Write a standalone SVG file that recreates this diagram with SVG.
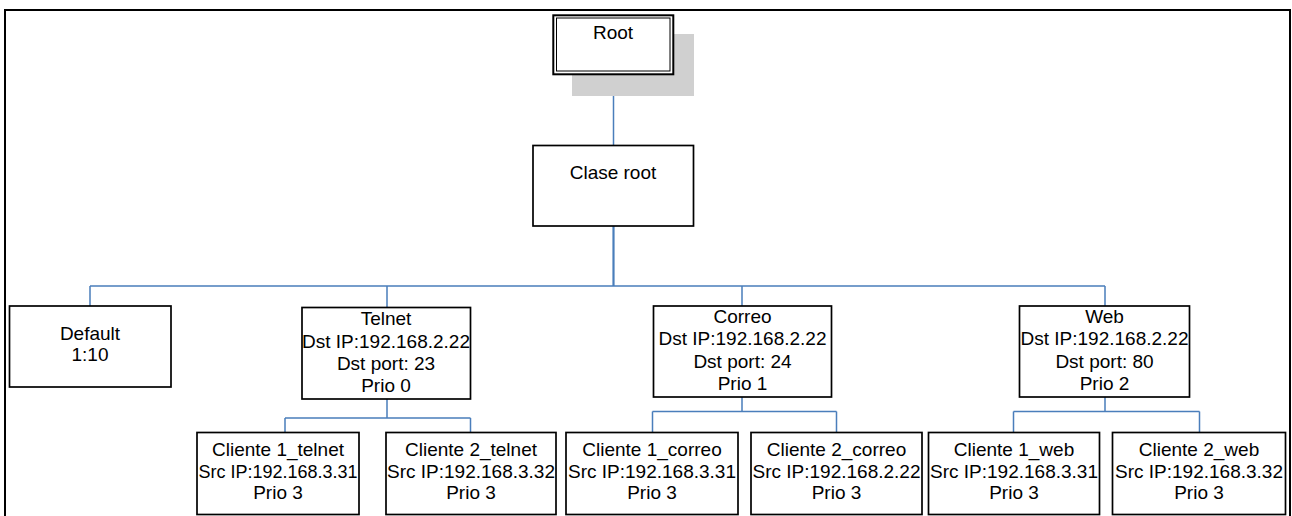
<svg xmlns="http://www.w3.org/2000/svg" width="1292" height="516" viewBox="0 0 1292 516">
<style>
.box{fill:#ffffff;stroke:#000000;stroke-width:1.7}
.t{font-family:"Liberation Sans",Arial,sans-serif;font-size:19px;fill:#000000;text-anchor:middle}
.c{fill:none;stroke:#4a7ebb;stroke-width:1.5}
</style>
<rect width="1292" height="516" fill="#ffffff"/>
<path d="M5 530 V10 H1290 V530" fill="none" stroke="#000000" stroke-width="2"/>
<g id="connectors">
<path class="c" d="M613.5 75 V145.5" stroke-width="1"/>
<path class="c" d="M613.5 226 V286" style="stroke-width:2.2"/>
<path class="c" d="M90 286 H1105 M90 286 V306 M387 286 V307.5 M742 286 V306 M1105 286 V306"/>
<path class="c" d="M387 399 V418 M285 418 H470.5 M285 418 V432.5 M470.5 418 V432.5"/>
<path class="c" d="M742 397 V411.5 M652.5 411.5 H836.5 M652.5 411.5 V432.5 M836.5 411.5 V432.5"/>
<path class="c" d="M1105 397 V411.5 M1013.5 411.5 H1199.5 M1013.5 411.5 V432.5 M1199.5 411.5 V432.5"/>
</g>
<g id="root">
<rect x="572" y="34" width="122" height="62" fill="#d0d0d0"/>
<rect x="553.3" y="15.3" width="120" height="59" fill="#ffffff" stroke="#000000" stroke-width="2"/>
<rect x="556.5" y="18" width="113.5" height="53" fill="none" stroke="#000000" stroke-width="1"/>
<text class="t" x="613" y="38.5">Root</text>
</g>
<g id="clase-root">
<rect class="box" x="533" y="145.5" width="160.5" height="80.5"/>
<text class="t" x="613" y="179">Clase root</text>
</g>
<g id="default">
<rect class="box" x="9.5" y="306" width="161.5" height="81"/>
<text class="t" x="90" y="340">Default</text>
<text class="t" x="90" y="361">1:10</text>
</g>
<g id="telnet">
<rect class="box" x="302" y="307.5" width="168.5" height="91.5"/>
<text class="t" x="386" y="324.5">Telnet</text>
<text class="t" x="386" y="347.5">Dst IP:192.168.2.22</text>
<text class="t" x="386" y="370">Dst port: 23</text>
<text class="t" x="386" y="392">Prio 0</text>
</g>
<g id="correo">
<rect class="box" x="653.5" y="306" width="178" height="91"/>
<text class="t" x="742.5" y="322.5">Correo</text>
<text class="t" x="742.5" y="345">Dst IP:192.168.2.22</text>
<text class="t" x="742.5" y="367.5">Dst port: 24</text>
<text class="t" x="742.5" y="390">Prio 1</text>
</g>
<g id="web">
<rect class="box" x="1019.5" y="306" width="170" height="91"/>
<text class="t" x="1104.5" y="322.5">Web</text>
<text class="t" x="1104.5" y="345">Dst IP:192.168.2.22</text>
<text class="t" x="1104.5" y="367.5">Dst port: 80</text>
<text class="t" x="1104.5" y="390">Prio 2</text>
</g>
<g id="cliente1-telnet">
<rect class="box" x="197" y="432.5" width="162" height="82"/>
<text class="t" x="278" y="455.5">Cliente 1_telnet</text>
<text class="t" x="278" y="477.5" textLength="159" lengthAdjust="spacingAndGlyphs">Src IP:192.168.3.31</text>
<text class="t" x="278" y="499">Prio 3</text>
</g>
<g id="cliente2-telnet">
<rect class="box" x="386" y="432.5" width="170" height="82"/>
<text class="t" x="471" y="455.5">Cliente 2_telnet</text>
<text class="t" x="471" y="477.5">Src IP:192.168.3.32</text>
<text class="t" x="471" y="499">Prio 3</text>
</g>
<g id="cliente1-correo">
<rect class="box" x="566" y="432.5" width="172" height="82"/>
<text class="t" x="652" y="455.5">Cliente 1_correo</text>
<text class="t" x="652" y="477.5">Src IP:192.168.3.31</text>
<text class="t" x="652" y="499">Prio 3</text>
</g>
<g id="cliente2-correo">
<rect class="box" x="751" y="432.5" width="171" height="82"/>
<text class="t" x="836.5" y="455.5">Cliente 2_correo</text>
<text class="t" x="836.5" y="477.5">Src IP:192.168.2.22</text>
<text class="t" x="836.5" y="499">Prio 3</text>
</g>
<g id="cliente1-web">
<rect class="box" x="928.5" y="432.5" width="171" height="82"/>
<text class="t" x="1014" y="455.5">Cliente 1_web</text>
<text class="t" x="1014" y="477.5">Src IP:192.168.3.31</text>
<text class="t" x="1014" y="499">Prio 3</text>
</g>
<g id="cliente2-web">
<rect class="box" x="1112.5" y="432.5" width="173" height="82"/>
<text class="t" x="1199" y="455.5">Cliente 2_web</text>
<text class="t" x="1199" y="477.5">Src IP:192.168.3.32</text>
<text class="t" x="1199" y="499">Prio 3</text>
</g>
</svg>
